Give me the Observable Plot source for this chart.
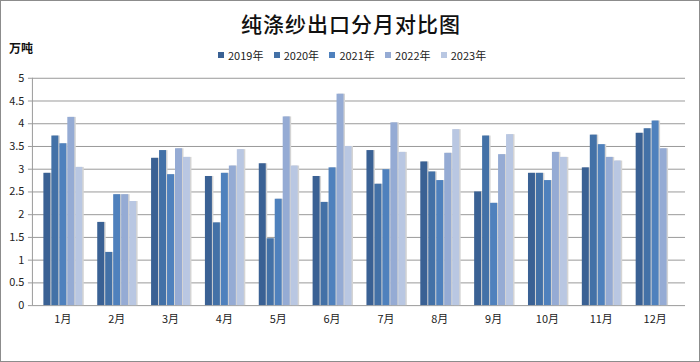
<!DOCTYPE html>
<html><head><meta charset="utf-8">
<script src="https://cdn.jsdelivr.net/npm/d3@7"></script>
<script src="https://cdn.jsdelivr.net/npm/@observablehq/plot@0.6"></script>
<style>
html,body{margin:0;padding:0;background:#fff;}
#wrap{position:relative;width:700px;height:362px;box-sizing:border-box;border:1px solid #8c8c8c;overflow:hidden;font-family:"Noto Sans CJK SC","Noto Sans",sans-serif;}
#wrap svg{position:absolute;left:-1px;top:-1px;background:transparent;}
#title{position:absolute;left:0;width:700px;top:7px;text-align:center;font-size:21px;font-weight:500;color:#111;letter-spacing:1px;}
#unit{position:absolute;left:8px;top:38px;font-size:12px;font-weight:bold;color:#111;}
#legend{position:absolute;left:217px;top:46px;font-size:11px;color:#222;display:flex;}
#legend .it{width:55.7px;display:flex;align-items:center;white-space:nowrap;}
#legend .sw{width:6px;height:6px;margin-right:4px;}
</style>
</head><body>
<div id="wrap">
  <div id="title">纯涤纱出口分月对比图</div>
  <div id="unit">万吨</div>
  <div id="legend"></div>
</div>
<script>
const months = ["1月","2月","3月","4月","5月","6月","7月","8月","9月","10月","11月","12月"];
const years = ["2019年","2020年","2021年","2022年","2023年"];
const colors = ["#3a6194","#4371a7","#4f81bd","#95abd4","#b9c7e2"];
const v2019 = [2.91,1.83,3.24,2.84,3.12,2.84,3.41,3.16,2.50,2.91,3.03,3.79];
const v2020 = [3.73,1.17,3.41,1.82,1.47,2.27,2.67,2.94,3.73,2.91,3.75,3.89];
const v2021 = [3.56,2.44,2.88,2.91,2.34,3.03,2.99,2.75,2.25,2.75,3.54,4.06];
const v2022 = [4.14,2.44,3.45,3.07,4.15,4.65,4.02,3.35,3.32,3.37,3.26,3.45];
const v2023 = [3.04,2.29,3.26,3.43,3.07,3.50,3.37,3.87,3.76,3.26,3.18,null];
const yTicks = [0,0.5,1,1.5,2,2.5,3,3.5,4,4.5,5];

const series = [v2019,v2020,v2021,v2022,v2023];
const data = [];
months.forEach((m,i)=>series.forEach((s,j)=>{ if(s[i]!=null) data.push({month:m, year:years[j], value:s[i]}); }));

const W=700,H=362;
const M={marginLeft:32,marginRight:13,marginTop:78,marginBottom:56};
const font = {fontFamily:'"Noto Sans CJK SC","Noto Sans",sans-serif',fontSize:"11px",color:"#222",background:"transparent"};

const bg = Plot.plot({
  width:W,height:H,...M,style:font,
  x:{domain:[0,1],axis:null},
  y:{domain:[0,5],ticks:yTicks,tickSize:4,tickPadding:4,tickFormat:d=>String(d),label:null},
  marks:[
    Plot.ruleY(yTicks,{stroke:"#9a9a9a",strokeWidth:1}),
    Plot.ruleX([0],{y1:0,y2:5,stroke:"#9a9a9a"})
  ]
});
bg.querySelectorAll('[aria-label="y-axis"] path, [aria-label="y-axis tick"] path').forEach(p=>p.setAttribute("stroke","#9a9a9a"));

const fg = Plot.plot({
  width:W,height:H,...M,style:font,
  fx:{domain:months,paddingInner:0.25,paddingOuter:0.125,label:null,tickSize:0,tickPadding:10},
  x:{domain:years,axis:null,padding:0},
  y:{domain:[0,5],axis:null},
  color:{domain:years,range:colors},
  marks:[
    Plot.barY(data,{fx:"month",x:"year",y:"value",fill:"#d4d4d4",dx:1.5,insetLeft:0.5,insetRight:0.5}),
    Plot.barY(data,{fx:"month",x:"year",y:"value",fill:"year",insetLeft:0.5,insetRight:0.5})
  ]
});

const wrap=document.getElementById("wrap");
wrap.insertBefore(bg,wrap.firstChild);
wrap.insertBefore(fg,bg.nextSibling);

const lg=document.getElementById("legend");
years.forEach((y,i)=>{
  const it=document.createElement("div");it.className="it";
  const sw=document.createElement("span");sw.className="sw";sw.style.background=colors[i];
  it.appendChild(sw);it.appendChild(document.createTextNode(y));lg.appendChild(it);
});
</script>
</body></html>
